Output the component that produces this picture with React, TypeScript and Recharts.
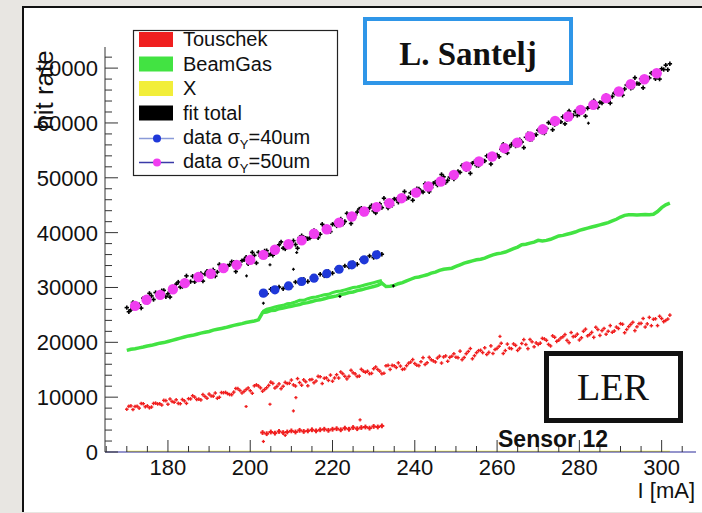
import React from 'react';
import { ComposedChart, Line, Scatter, XAxis, YAxis } from 'recharts';

// beam current scan, 1 mA steps
const I_SCAN = [
  170, 171, 172, 173, 174, 175, 176, 177, 178, 179, 180, 181, 182, 183, 184, 185, 186, 187, 188, 189,
  190, 191, 192, 193, 194, 195, 196, 197, 198, 199, 200, 201, 202, 203, 204, 205, 206, 207, 208, 209,
  210, 211, 212, 213, 214, 215, 216, 217, 218, 219, 220, 221, 222, 223, 224, 225, 226, 227, 228, 229,
  230, 231, 232, 233, 234, 235, 236, 237, 238, 239, 240, 241, 242, 243, 244, 245, 246, 247, 248, 249,
  250, 251, 252, 253, 254, 255, 256, 257, 258, 259, 260, 261, 262, 263, 264, 265, 266, 267, 268, 269,
  270, 271, 272, 273, 274, 275, 276, 277, 278, 279, 280, 281, 282, 283, 284, 285, 286, 287, 288, 289,
  290, 291, 292, 293, 294, 295, 296, 297, 298, 299, 300, 301, 302,
];
// readings in between
const I_HALF = [
  170.5, 171.5, 172.5, 173.5, 174.5, 175.5, 176.5, 177.5, 178.5, 179.5, 180.5, 181.5, 182.5, 183.5, 184.5,
  185.5, 186.5, 187.5, 188.5, 189.5, 190.5, 191.5, 192.5, 193.5, 194.5, 195.5, 196.5, 197.5, 198.5, 199.5,
  200.5, 201.5, 202.5, 203.5, 204.5, 205.5, 206.5, 207.5, 208.5, 209.5, 210.5, 211.5, 212.5, 213.5, 214.5,
  215.5, 216.5, 217.5, 218.5, 219.5, 220.5, 221.5, 222.5, 223.5, 224.5, 225.5, 226.5, 227.5, 228.5, 229.5,
  230.5, 231.5, 232.5, 233.5, 234.5, 235.5, 236.5, 237.5, 238.5, 239.5, 240.5, 241.5, 242.5, 243.5, 244.5,
  245.5, 246.5, 247.5, 248.5, 249.5, 250.5, 251.5, 252.5, 253.5, 254.5, 255.5, 256.5, 257.5, 258.5, 259.5,
  260.5, 261.5, 262.5, 263.5, 264.5, 265.5, 266.5, 267.5, 268.5, 269.5, 270.5, 271.5, 272.5, 273.5, 274.5,
  275.5, 276.5, 277.5, 278.5, 279.5, 280.5, 281.5, 282.5, 283.5, 284.5, 285.5, 286.5, 287.5, 288.5, 289.5,
  290.5, 291.5, 292.5, 293.5, 294.5, 295.5, 296.5, 297.5, 298.5, 299.5, 300.5, 301.5,
];

const TOUSCHEK = [
  7800, 8410, 8300, 8000, 8810, 8410, 8200, 8910, 8810, 9420,
  8710, 9220, 9520, 8810, 9320, 9720, 10260, 9570, 9500, 10130,
  10560, 10180, 9800, 10840, 10870, 10480, 10920, 11550, 10770, 11390,
  11180, 12070, 12040, 11090, 11720, 12740, 11660, 12420, 11990, 12490,
  13120, 12030, 12660, 13160, 12070, 13230, 12950, 13730, 13460, 13060,
  12910, 14090, 14600, 13800, 13790, 14440, 13770, 15080, 14540, 14270,
  15180, 15050, 14270, 15720, 15060, 15730, 16250, 15070, 15740, 16400,
  16130, 15750, 17200, 16280, 16810, 16420, 17470, 17330, 16540, 17460,
  17290, 18390, 17230, 18330, 17000, 18100, 18550, 19000, 18160, 17960,
  18900, 19830, 18490, 18940, 19710, 18530, 19790, 19590, 20520, 19180,
  19630, 20720, 20360, 19340, 20920, 20400, 21020, 20350, 21780, 21100,
  20430, 22020, 21180, 21810, 22750, 21260, 22530, 22020, 21830, 22780,
  23400, 21750, 22870, 23660, 22830, 23460, 22790, 24550, 24210, 23050,
  24330, 23990, 24960,
];
const TOUSCHEK_HALF = [
  8350, 7750, 8350, 8850, 8250, 8060, 8860, 8760, 8560, 9360,
  9660, 9060, 8870, 9570, 8870, 9680, 10010, 9640, 10470, 9800,
  10220, 10750, 9980, 10810, 10640, 10460, 11590, 11220, 11050, 11680,
  10710, 12240, 11690, 11400, 12150, 12510, 11960, 11550, 12690, 12530,
  12240, 13380, 12180, 12800, 13170, 12630, 13790, 12480, 13510, 14030,
  13500, 13490, 14260, 13340, 14900, 14240, 13840, 14740, 14730, 14340,
  15510, 14740, 14350, 15790, 15790, 15410, 15670, 15150, 16200, 16850,
  15820, 16470, 15960, 17260, 16610, 17130, 16220, 17520, 17260, 17910,
  17200, 16840, 17930, 18860, 17550, 18480, 18130, 17780, 19350, 18680,
  19280, 17960, 19680, 18840, 19440, 18930, 20490, 18850, 20090, 19890,
  19850, 20620, 19620, 21180, 20180, 20790, 21410, 19940, 21040, 21490,
  20830, 22400, 21420, 20910, 22330, 22140, 21480, 23050, 22070, 22520,
  23300, 22330, 23270, 22130, 23400, 24340, 23360, 23030, 24290, 24750,
  23770, 24240,
];

const BEAMGAS = [
  18530, 18740, 18840, 18990, 19140, 19340, 19450, 19650, 19850, 19950,
  20150, 20360, 20560, 20760, 20960, 21170, 21270, 21470, 21670, 21830,
  21980, 22230, 22380, 22530, 22690, 22890, 23090, 23240, 23400, 23600,
  23750, 23900, 24100, 25420, 25520, 25780, 25830, 26130, 26230, 26430,
  26590, 26740, 26890, 27140, 27240, 27450, 27650, 27750, 27950, 28160,
  28310, 28460, 28710, 28860, 29070, 29170, 29420, 29570, 29780, 29980,
  30180, 30380, 30790, 30180, 30230, 30380, 30690, 30890, 31190, 31500,
  31800, 31900, 32110, 32310, 32610, 32810, 33120, 33320, 33420, 33520,
  33830, 34130, 34440, 34640, 34840, 35040, 35140, 35350, 35650, 35950,
  36160, 36260, 36460, 36760, 37070, 37370, 37780, 37880, 38080, 38280,
  38590, 38490, 38590, 38790, 39090, 39400, 39500, 39700, 39900, 40110,
  40410, 40610, 40820, 41020, 41220, 41420, 41630, 41830, 42130, 42440,
  42840, 43150, 43250, 43250, 43200, 43250, 43300, 43250, 43350, 43850,
  44560, 45070, 45370,
];

const FIT_TOTAL = [
  26330, 25930, 27140, 26840, 28050, 27300, 28460, 29070, 28360, 29470,
  28860, 29930, 30590, 30080, 31240, 30890, 32050, 31400, 32560, 32460,
  32160, 33220, 32810, 33780, 33220, 34130, 34590, 33930, 34890, 35500,
  34740, 35850, 36410, 35700, 36710, 36110, 37170, 37780, 37170, 38180,
  38230, 37830, 39090, 39090, 38890, 40110, 40160, 39700, 41070, 40560,
  41520, 41220, 42490, 42030, 42890, 42540, 43750, 44460, 43650, 44510,
  43960, 44920, 44560, 45470, 45120, 46130, 45530, 46540, 46230, 47250,
  46940, 47960, 47400, 48510, 48210, 49220, 49020, 50180, 49530, 50540,
  50290, 50990, 52060, 51750, 52670, 52260, 53170, 53070, 53830, 53480,
  54180, 55200, 54840, 55600, 56410, 55960, 56510, 57380, 56920, 57730,
  58690, 58290, 59000, 60010, 59700, 60360, 61120, 60570, 61170, 62080,
  61580, 62290, 62690, 63500, 62950, 63760, 64620, 64010, 64820, 65730,
  65330, 66190, 67050, 66490, 67200, 68060, 67550, 68210, 69070, 68620,
  69880, 70540, 70790,
];
const FIT_TOTAL_HALF = [
  25580, 27280, 26640, 26240, 28020, 28930, 27810, 28510, 29410, 28320,
  28250, 30000, 30980, 30160, 32120, 31070, 31030, 32330, 31160, 32960,
  32590, 32070, 34200, 33100, 33930, 34700, 32910, 34160, 35040, 34320,
  36400, 34470, 35750, 36660, 35960, 35890, 37220, 38320, 37030, 37700,
  38530, 37160, 39440, 38990, 39000, 40380, 39080, 41530, 40410, 40190,
  41620, 42200, 41560, 43510, 41670, 43200, 44300, 43400, 43880, 44940,
  43590, 45240, 46270, 44500, 44980, 46080, 46180, 47490, 46390, 45900,
  48000, 47530, 48910, 47460, 48970, 48670, 50600, 49150, 50130, 49760,
  51150, 52230, 51460, 50810, 52910, 52220, 53120, 54000, 52510, 53940,
  53840, 56120, 54530, 56060, 55790, 56940, 55500, 58050, 57030, 57860,
  58490, 58150, 60050, 58760, 60540, 60190, 59840, 62170, 61380, 61380,
  62740, 61240, 62950, 64080, 62860, 63640, 65020, 63620, 65430, 65430,
  65060, 66920, 66320, 68250, 67130, 66410, 68140, 69090, 68050, 68000,
  69750, 69710,
];

// second (short) run, 203 - 232 mA
const I_RUN2 = [
  203, 204, 205, 206, 207, 208, 209, 210, 211, 212, 213, 214, 215, 216, 217,
  218, 219, 220, 221, 222, 223, 224, 225, 226, 227, 228, 229, 230, 231, 232,
];
const TOUSCHEK_RUN2 = [
  3550, 3340, 3650, 3440, 3750, 3540, 3650, 3850, 3650, 3950, 3750, 3850, 4050, 3850, 4050,
  4150, 3950, 4150, 4250, 4050, 4350, 4150, 4460, 4250, 4460, 4560, 4350, 4660, 4560, 4760,
];
const BEAMGAS_RUN2 = [
  25620, 26030, 26230, 26430, 26640, 26740, 27040, 27140, 27350, 27650, 27650, 27950, 28160, 28260, 28460,
  28660, 28760, 29070, 29270, 29370, 29570, 29780, 29980, 30080, 30280, 30490, 30690, 30890, 31090, 31300,
];
const FIT_RUN2 = [
  29270, 28860, 29680, 29270, 30080, 29780, 30590, 30180, 30990, 30790, 31500, 31090, 31900, 31600, 32410,
  32110, 32920, 32610, 33420, 33120, 33930, 33730, 34540, 34230, 35140, 34840, 35750, 35450, 36360, 36060,
];

// stray points
const I_TOUSCHEK_STRAY = [199.0, 204.8, 210.5, 211.1, 260.7, 203.2, 226.7, 208.5];
const TOUSCHEK_STRAY = [8300, 8710, 7490, 9930, 21070, 1920, 5870, 3040];
const I_FIT_STRAY = [199.1, 204.8, 210.5, 211.3, 282.2, 203.2, 221.8, 234.8];
const FIT_STRAY = [32110, 34130, 33320, 36360, 59960, 27140, 28360, 30280];

// measured data
const I_DATA50 = [
  172.0, 174.8, 178.1, 181.2, 184.1, 187.4, 190.4, 193.5, 196.7, 200.0, 203.2, 206.0, 209.3, 212.5,
  215.5, 218.6, 221.6, 224.7, 227.7, 230.7, 233.8, 236.8, 240.3, 243.3, 246.3, 249.5, 252.6, 255.6,
  258.8, 261.8, 264.9, 268.0, 271.1, 274.1, 277.3, 280.3, 283.4, 286.5, 289.6, 292.5, 295.8, 298.8,
];
const DATA50 = [
  26640, 27750, 28660, 29680, 30790, 31900, 32510, 33520, 34130, 35040, 35950, 36870, 37880, 38590,
  39800, 40610, 41830, 42940, 43850, 44660, 45370, 46280, 47300, 48410, 49320, 50540, 52060, 52970,
  53880, 55400, 56410, 57530, 58840, 60360, 61170, 62390, 63300, 64520, 65730, 67050, 67960, 69070,
];
const I_DATA40 = [203.2, 206.0, 209.3, 212.5, 215.5, 218.6, 221.6, 224.7, 227.7, 230.7];
const DATA40 = [28970, 29570, 30280, 31090, 31700, 32510, 33320, 34130, 35040, 35950];

const I_X = [170, 302];
const X_COMPONENT = [0, 0];

const X_TICKS = [
  165, 170, 175, 180, 185, 190, 195, 200, 205, 210, 215, 220, 225, 230, 235,
  240, 245, 250, 255, 260, 265, 270, 275, 280, 285, 290, 295, 300, 305,
];
const X_LABELS = [180, 200, 220, 240, 260, 280, 300];
const Y_TICKS = [
  0, 2000, 4000, 6000, 8000, 10000, 12000, 14000, 16000, 18000, 20000, 22000, 24000,
  26000, 28000, 30000, 32000, 34000, 36000, 38000, 40000, 42000, 44000, 46000, 48000,
  50000, 52000, 54000, 56000, 58000, 60000, 62000, 64000, 66000, 68000, 70000, 72000,
];
const Y_LABELS = [0, 10000, 20000, 30000, 40000, 50000, 60000, 70000];

const LEGEND_BOXES = ['Touschek', 'BeamGas', 'X', 'fit total'];

const SANS = '"Liberation Sans", Arial, Helvetica, sans-serif';
const SERIF = '"Liberation Serif", "Times New Roman", serif';

const RED = '#f01f1f';
const GREEN = '#42e342';
const YELLOW = '#f2ee3a';
const MAGENTA = '#f03ef0';
const BLUE = '#1f38d9';

const pairs = (xs: number[], ys: number[]) => xs.map((x, i) => ({ x, y: ys[i] }));

const cross = (color: string, r: number, w: number) => (p: any) => (
  <g>
    <line x1={p.cx - r} x2={p.cx + r} y1={p.cy} y2={p.cy} stroke={color} strokeWidth={w} />
    <line x1={p.cx} x2={p.cx} y1={p.cy - r} y2={p.cy + r} stroke={color} strokeWidth={w} />
  </g>
);

const dot = (color: string, r: number) => (p: any) => <circle cx={p.cx} cy={p.cy} r={r} fill={color} />;

const XTick = (props: any) => {
  const { x, y, payload } = props;
  const major = X_LABELS.includes(payload.value);
  return (
    <g>
      <line x1={x} x2={x} y1={y} y2={y - (major ? 12 : 6)} stroke="#333" />
      {major && (
        <text x={x} y={y + 23} textAnchor="middle" fontSize={22} fontFamily={SANS} fill="#111">
          {payload.value}
        </text>
      )}
    </g>
  );
};

const YTick = (props: any) => {
  const { x, y, payload } = props;
  const major = Y_LABELS.includes(payload.value);
  return (
    <g>
      <line x1={x} x2={x + (major ? 13 : 7)} y1={y} y2={y} stroke="#333" />
      {major && (
        <text x={x - 7} y={y + 8} textAnchor="end" fontSize={22} fontFamily={SANS} fill="#111">
          {payload.value}
        </text>
      )}
    </g>
  );
};

const LEGEND_BASE = [46, 70.5, 95, 119.5, 144, 168];
const SWATCH = [RED, GREEN, YELLOW, '#000'];

export default function App() {
  const xDomain = [164.7, 308.35];
  const yDomain = [0, 73850];
  return (
    <div style={{ position: 'fixed', left: 0, top: 0, width: 702, height: 513, overflow: 'hidden', background: '#e8e6e2' }}>
      <div
        style={{
          position: 'absolute', left: 22, top: 6, width: 700, height: 504, background: '#fff',
          borderTop: '2px solid #111', borderLeft: '2px solid #111',
        }}
      />
      <div style={{ position: 'absolute', left: 0, top: 0 }}>
        <ComposedChart width={702} height={513} margin={{ top: 47, right: 6, bottom: 0, left: 0 }}>
          <XAxis
            dataKey="x" type="number" domain={xDomain} allowDataOverflow ticks={X_TICKS} interval={0}
            tick={(p: any) => <XTick {...p} />} tickLine={false} tickSize={0} tickMargin={0}
            axisLine={{ stroke: '#2b2b9a', strokeWidth: 1.2 }} height={61}
          />
          <XAxis
            xAxisId="top" orientation="top" dataKey="x" type="number" domain={xDomain} allowDataOverflow
            height={0} tick={false} tickLine={false} axisLine={{ stroke: '#666' }}
          />
          <YAxis
            dataKey="y" type="number" domain={yDomain} allowDataOverflow ticks={Y_TICKS} interval={0}
            tick={(p: any) => <YTick {...p} />} tickLine={false} tickSize={0} tickMargin={0}
            axisLine={{ stroke: '#333' }} width={105}
          />
          <YAxis
            yAxisId="right" orientation="right" dataKey="y" type="number" domain={yDomain} allowDataOverflow
            width={0} tick={false} tickLine={false} axisLine={{ stroke: '#666' }}
          />
          <Line data={pairs(I_X, X_COMPONENT)} dataKey="y" stroke={YELLOW} strokeWidth={2.5} dot={false} isAnimationActive={false} />
          <Line data={pairs(I_SCAN, BEAMGAS)} dataKey="y" stroke={GREEN} strokeWidth={3.5} dot={false} isAnimationActive={false} />
          <Line data={pairs(I_RUN2, BEAMGAS_RUN2)} dataKey="y" stroke={GREEN} strokeWidth={3} dot={false} isAnimationActive={false} />
          <Scatter data={pairs(I_SCAN, TOUSCHEK)} shape={cross(RED, 1.8, 1.4)} isAnimationActive={false} />
          <Scatter data={pairs(I_HALF, TOUSCHEK_HALF)} shape={cross(RED, 1.8, 1.4)} isAnimationActive={false} />
          <Scatter data={pairs(I_RUN2, TOUSCHEK_RUN2)} shape={cross(RED, 2.4, 2)} isAnimationActive={false} />
          <Scatter data={pairs(I_TOUSCHEK_STRAY, TOUSCHEK_STRAY)} shape={cross(RED, 1.6, 1.3)} isAnimationActive={false} />
          <Scatter data={pairs(I_SCAN, FIT_TOTAL)} shape={cross('#000', 2.2, 1.6)} isAnimationActive={false} />
          <Scatter data={pairs(I_HALF, FIT_TOTAL_HALF)} shape={cross('#000', 2.2, 1.6)} isAnimationActive={false} />
          <Scatter data={pairs(I_RUN2, FIT_RUN2)} shape={cross('#000', 2.2, 1.6)} isAnimationActive={false} />
          <Scatter data={pairs(I_FIT_STRAY, FIT_STRAY)} shape={cross('#000', 1.5, 1.2)} isAnimationActive={false} />
          <Scatter data={pairs(I_DATA40, DATA40)} shape={dot(BLUE, 4.6)} isAnimationActive={false} />
          <Scatter data={pairs(I_DATA50, DATA50)} shape={dot(MAGENTA, 5.2)} isAnimationActive={false} />
        </ComposedChart>
      </div>
      <svg width={702} height={513} style={{ position: 'absolute', left: 0, top: 0 }}>
        <text transform="translate(53,90) rotate(-90)" textAnchor="middle" fontSize={26} fontFamily={SANS} fill="#111">
          hit rate
        </text>

        <rect x={133.5} y={30.5} width={204} height={145} fill="#fff" stroke="#222" strokeWidth={1.2} />
        {LEGEND_BOXES.map((name, i) => (
          <g key={name}>
            <rect x={139} y={LEGEND_BASE[i] - 14} width={34} height={15} fill={SWATCH[i]} />
            <text x={183} y={LEGEND_BASE[i]} fontSize={20} fontFamily={SANS} fill="#111">{name}</text>
          </g>
        ))}
        {[
          { c: BLUE, line: '#8a9ad8', sub: '=40um' },
          { c: MAGENTA, line: '#3a3aa8', sub: '=50um' },
        ].map((d, k) => {
          const b = LEGEND_BASE[4 + k];
          return (
            <g key={d.sub}>
              <line x1={139} x2={174} y1={b - 5.5} y2={b - 5.5} stroke={d.line} strokeWidth={1.5} />
              <circle cx={157} cy={b - 5.5} r={4} fill={d.c} />
              <text x={183} y={b} fontSize={20} fontFamily={SANS} fill="#111">
                data σ<tspan fontSize={13} dy={5}>Y</tspan>
                <tspan dy={-5}>{d.sub}</tspan>
              </text>
            </g>
          );
        })}

        <rect x={365} y={19} width={206} height={64} fill="#fff" stroke="#2f96e8" strokeWidth={4} />
        <text x={468} y={65} textAnchor="middle" fontSize={33} fontWeight="bold" fontFamily={SERIF} fill="#111">
          L. Santelj
        </text>

        <rect x={546.5} y={353.5} width={134} height={67} fill="#fff" stroke="#111" strokeWidth={5} />
        <text x={613} y={400} textAnchor="middle" fontSize={38} fontFamily={SERIF} fill="#111">LER</text>

        <text x={553} y={447} textAnchor="middle" fontSize={23} fontWeight="bold" fontFamily={SANS} fill="#111">
          Sensor 12
        </text>
        <text x={695} y={498} textAnchor="end" fontSize={22} fontFamily={SANS} fill="#111">I [mA]</text>
      </svg>
    </div>
  );
}
